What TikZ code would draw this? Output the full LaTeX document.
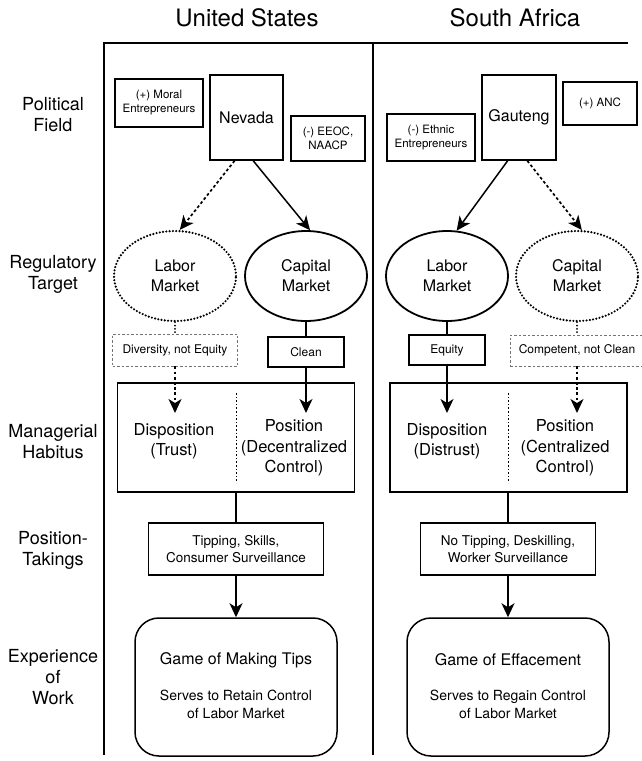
\documentclass[tikz,border=0pt]{standalone}
\usepackage{fontspec}
\setmainfont{TeX Gyre Heros}
\usetikzlibrary{arrows.meta,shapes.geometric,calc}
\begin{document}
\begin{tikzpicture}[x=1pt,y=-1pt,
  ttl/.style={font=\fontsize{24}{28}\selectfont},
  lbl/.style={font=\fontsize{18}{21}\selectfont, align=center},
  frame/.style={line width=1.5pt},
  bx/.style={draw, rectangle, line width=1.5pt, inner sep=0pt, align=center},
  polbig/.style={bx, font=\fontsize{16}{19}\selectfont},
  polsmall/.style={bx, font=\fontsize{11.5}{14}\selectfont},
  solidell/.style={draw, ellipse, line width=1.8pt, inner sep=0pt, minimum width=122pt, minimum height=90pt, align=center, font=\fontsize{16}{20}\selectfont},
  dotell/.style={solidell, line cap=round, dash pattern=on 0pt off 3.3pt, line width=2.4pt},
  tagbox/.style={bx, font=\fontsize{12}{14}\selectfont, minimum height=30pt},
  gtag/.style={tagbox, draw=black!55, line width=0.9pt, dash pattern=on 2.5pt off 2pt},
  hab/.style={bx, minimum width=237pt, minimum height=109pt},
  habtxt/.style={align=center, font=\fontsize{16.5}{20.5}\selectfont},
  ptk/.style={bx, font=\fontsize{13.5}{17.5}\selectfont, minimum width=175pt, minimum height=52pt},
  game/.style={draw, rectangle, rounded corners=24pt, line width=1.5pt, minimum width=202pt, minimum height=138pt},
  gtitle/.style={font=\fontsize{16}{19}\selectfont},
  gsub/.style={align=center, font=\fontsize{14}{18}\selectfont},
  arr/.style={-{Stealth[length=14pt,width=13pt,inset=4pt]}, line width=1.5pt},
  darr/.style={arr, dash pattern=on 2.8pt off 2.4pt, line width=1.7pt},
  dotln/.style={line width=2pt, line cap=round, dash pattern=on 0pt off 3.3pt},
  divider/.style={line width=0.9pt, dash pattern=on 1.6pt off 2pt}
]
\useasboundingbox (0,0) rectangle (641,761);

% titles
\node[ttl] (tus) at (247,18) {United States};
\node[ttl] (tsa) at (515,18) {South Africa};

% frame
\coordinate (fa) at (104,43);
\coordinate (fb) at (628,43);
\coordinate (fc) at (104,755);
\coordinate (fd) at (373,43);
\coordinate (fe) at (373,755);
\draw[frame] (fb) -- (fa) -- (fc);
\draw[frame] (fd) -- (fe);

% row labels
\node[lbl] (l1) at (53,115) {Political\\Field};
\node[lbl] (l2) at (53,274) {Regulatory\\Target};
\node[lbl] (l3) at (53,442) {Managerial\\Habitus};
\node[lbl] (l4) at (53,550) {Position-\\Takings};
\node[lbl] (l5) at (53,677) {Experience\\of\\Work};

% political field - US
\node[polsmall, minimum width=88pt, minimum height=48pt] (moral) at (159,103) {(+) Moral\\Entrepreneurs};
\node[polbig, minimum width=73pt, minimum height=85pt] (nevada) at (246.5,117.5) {Nevada};
\node[polsmall, minimum width=74pt, minimum height=45pt] (eeoc) at (328,138.5) {(-) EEOC,\\NAACP};
% political field - SA
\node[polsmall, minimum width=88pt, minimum height=47pt] (ethnic) at (431,137.5) {(-) Ethnic\\Entrepreneurs};
\node[polbig, minimum width=74pt, minimum height=85pt] (gauteng) at (519,117.5) {Gauteng};
\node[polsmall, minimum width=74pt, minimum height=43pt] (anc) at (600,103.5) {(+) ANC};

% regulatory targets
\node[dotell] (usl) at (175,276) {Labor\\Market};
\node[solidell] (usc) at (306,276) {Capital\\Market};
\node[solidell] (sal) at (447,276) {Labor\\Market};
\node[dotell] (sac) at (577,276) {Capital\\Market};

\draw[darr] ($(nevada.south west)!0.34!(nevada.south east)$) -- (usl.84);
\draw[arr] ($(nevada.south west)!0.59!(nevada.south east)$) -- (usc.85);
\draw[arr] ($(gauteng.south west)!0.35!(gauteng.south east)$) -- (sal.78);
\draw[darr] ($(gauteng.south west)!0.61!(gauteng.south east)$) -- (sac.84);

% tags
\node[gtag, minimum width=125pt, minimum height=32pt] (div) at (175,350) {Diversity, not Equity};
\node[tagbox, minimum width=76pt] (clean) at (306,352) {Clean};
\node[tagbox, minimum width=76pt] (equity) at (447,350) {Equity};
\node[gtag, minimum width=134pt, minimum height=31pt] (comp) at (577,350.5) {Competent, not Clean};

\draw[dotln] (usl.south) -- (div.north);
\draw[line width=1.5pt] (usc.south) -- (clean.north);
\draw[line width=1.5pt] (sal.south) -- (equity.north);
\draw[dotln] (sac.south) -- (comp.north);

% habitus
\node[hab] (ush) at (236,437.5) {};
\node[hab] (sah) at (508.5,437.5) {};
\coordinate (d1a) at (236,393); \coordinate (d1b) at (236,483);
\coordinate (d2a) at (508,393); \coordinate (d2b) at (508,483);
\draw[divider] (d1a) -- (d1b);
\draw[divider] (d2a) -- (d2b);

\node[habtxt] (usdisp) at (174,441) {Disposition\\(Trust)};
\node[habtxt] (uspos) at (294,448) {Position\\(Decentralized\\Control)};
\node[habtxt] (sadisp) at (447,441) {Disposition\\(Distrust)};
\node[habtxt] (sapos) at (565,448) {Position\\(Centralized\\Control)};

\coordinate (t1) at (175,413);
\coordinate (t2) at (306,413);
\coordinate (t3) at (447,413);
\coordinate (t4) at (577,413);
\draw[darr] (div.south) -- (t1);
\draw[arr] (clean.south) -- (t2);
\draw[arr] (equity.south) -- (t3);
\draw[darr] (comp.south) -- (t4);

% position-takings
\node[ptk] (ust) at (236,549) {Tipping, Skills,\\Consumer Surveillance};
\node[ptk] (sat) at (508,549) {No Tipping, Deskilling,\\Worker Surveillance};
\draw[line width=1.5pt] (ush.south) -- (ust.north);
\draw[line width=1.5pt] (ush.south -| sat.north) -- (sat.north);

% experience of work
\node[game] (usg) at (236,687) {};
\node[game] (sag) at (508,687) {};
\draw[arr] (ust.south) -- (usg.north);
\draw[arr] (sat.south) -- (sag.north);

\node[gtitle] (usgt) at (236,660) {Game of Making Tips};
\node[gsub] (usgs) at (236,704) {Serves to Retain Control\\of Labor Market};
\node[gtitle] (sagt) at (508,660) {Game of Effacement};
\node[gsub] (sags) at (508,704) {Serves to Regain Control\\of Labor Market};
\end{tikzpicture}
\end{document}
